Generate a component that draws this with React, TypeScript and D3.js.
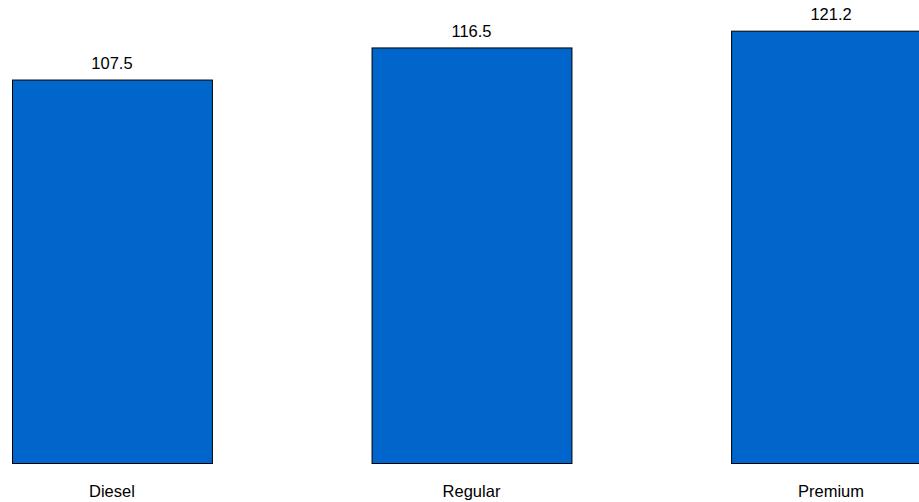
import React from "react";
import * as d3 from "d3";

const categories: string[] = ["Diesel", "Regular", "Premium"];
const values: number[] = [107.5, 116.5, 121.2];

const W = 919;
const H = 502;

export default function App() {
  const x = d3
    .scaleBand<string>()
    .domain(categories)
    .range([12, 931])
    .paddingInner(0.444)
    .paddingOuter(0);
  const y = d3.scaleLinear().domain([0, 129.8]).range([463, 0]);

  return (
    <svg
      width={W}
      height={H}
      style={{ position: "absolute", left: 0, top: 0, display: "block" }}
      fontFamily="'Liberation Sans', Arial, sans-serif"
    >
      <rect x={0} y={0} width={W} height={H} fill="#ffffff" />
      {categories.map((c, i) => {
        const bx = x(c)!;
        const by = y(values[i]);
        return (
          <g key={c}>
            <rect
              x={bx + 0.5}
              y={by + 0.5}
              width={x.bandwidth()}
              height={y(0) - by}
              fill="#0066CC"
              stroke="#000000"
              strokeWidth={1}
            />
            <text
              x={bx + x.bandwidth() / 2}
              y={by - 10.5}
              textAnchor="middle"
              fontSize={16.5}
              fill="#000000"
            >
              {values[i].toFixed(1)}
            </text>
            <text
              x={bx + x.bandwidth() / 2}
              y={496.5}
              textAnchor="middle"
              fontSize={16.5}
              fill="#000000"
            >
              {c}
            </text>
          </g>
        );
      })}
    </svg>
  );
}
